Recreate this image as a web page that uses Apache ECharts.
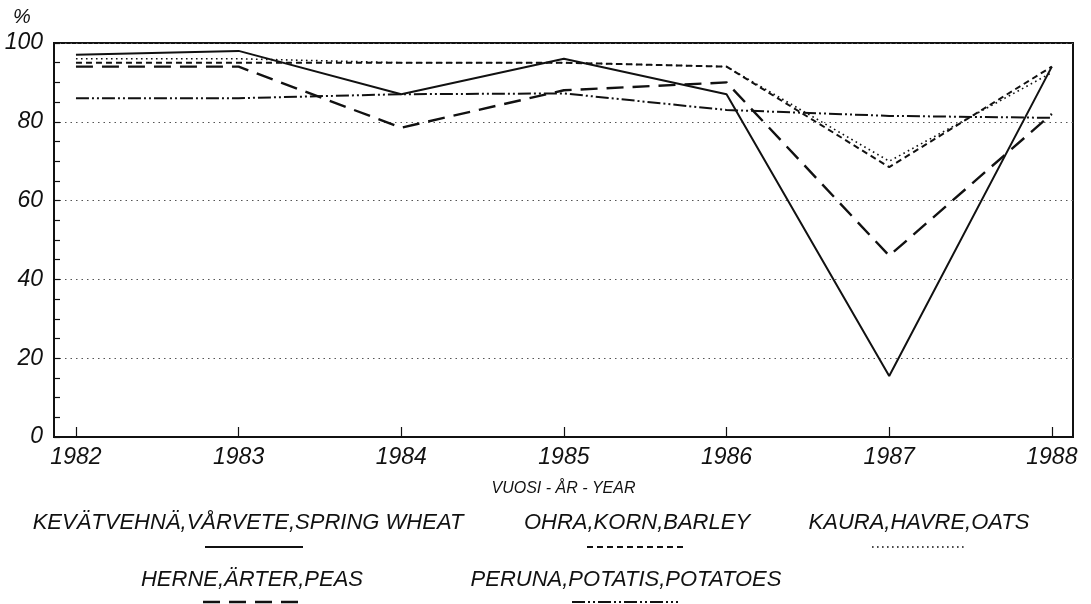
<!DOCTYPE html>
<html>
<head>
<meta charset="utf-8">
<script src="https://cdn.jsdelivr.net/npm/echarts@6/dist/echarts.min.js"></script>
<style>
html,body{margin:0;padding:0;background:#fff;}
#chart{width:1091px;height:604px;}
</style>
</head>
<body>
<div id="chart"></div>
<script>
// ---- data ----
const years = [1982, 1983, 1984, 1985, 1986, 1987, 1988];
const yTicks = [0, 20, 40, 60, 80, 100];
const seriesNames = [
  'KEVÄTVEHNÄ,VÅRVETE,SPRING WHEAT',
  'OHRA,KORN,BARLEY',
  'KAURA,HAVRE,OATS',
  'HERNE,ÄRTER,PEAS',
  'PERUNA,POTATIS,POTATOES'
];
const springWheat = [97, 98, 87, 96, 87, 15.5, 94];
const barley      = [95, 95, 95, 95, 94, 68.5, 94];
const oats        = [96, 96, 95, 95, 94, 70, 92.5];
const peas        = [94, 94, 78.5, 88, 90, 46, 82];
const potatoes    = [86, 86, 87, 87.2, 83, 81.5, 81];
const xAxisTitle = 'VUOSI - ÅR - YEAR';
const yAxisUnit = '%';

// ---- styles ----
const FONT = 'Liberation Sans, Arial, sans-serif';
const lineStyles = [
  {width: 2, type: 'solid'},
  {width: 2, type: [6, 4]},
  {width: 1.6, type: [1.6, 3.4]},
  {width: 2.4, type: [17, 9]},
  {width: 2, type: [13, 3, 2, 3, 2, 3]}
];
const allValues = [springWheat, barley, oats, peas, potatoes];

// legend layout: [centerX, textY, lineX1, lineX2, lineY]
const legendLayout = [
  [248, 523, 205, 303, 547],
  [637, 523, 587, 683, 547],
  [919, 523, 872, 966, 547],
  [252, 580, 203, 303, 602],
  [626, 580, 572, 678, 602]
];

const chart = echarts.init(document.getElementById('chart'), null, {renderer: 'canvas'});

const series = seriesNames.map((name, i) => ({
  name: name,
  type: 'line',
  data: years.map((y, j) => [y, allValues[i][j]]),
  symbol: 'none',
  lineStyle: {color: '#111', width: lineStyles[i].width, type: lineStyles[i].type},
  z: 3
}));

const graphic = [];
seriesNames.forEach((name, i) => {
  const L = legendLayout[i];
  graphic.push({
    type: 'text',
    x: L[0], y: L[1],
    style: {text: name, font: 'italic 22px ' + FONT, fill: '#111', textAlign: 'center', textVerticalAlign: 'middle'}
  });
  graphic.push({
    type: 'line',
    shape: {x1: L[2], y1: L[4], x2: L[3], y2: L[4]},
    style: {stroke: '#111', lineWidth: lineStyles[i].width, lineDash: lineStyles[i].type === 'solid' ? null : lineStyles[i].type}
  });
});

chart.setOption({
  backgroundColor: '#fff',
  animation: false,
  title: {
    text: yAxisUnit, left: 8, top: 2,
    textStyle: {fontFamily: FONT, fontStyle: 'italic', fontWeight: 'normal', fontSize: 20, color: '#111'}
  },
  grid: {
    left: 54, right: 18, top: 43, bottom: 167,
    show: true, borderColor: '#111', borderWidth: 2, backgroundColor: 'transparent'
  },
  xAxis: {
    type: 'value',
    min: 1981.865, max: 1988.13,
    name: xAxisTitle,
    nameLocation: 'middle',
    nameGap: 44,
    nameTextStyle: {fontFamily: FONT, fontStyle: 'italic', fontSize: 16, color: '#111'},
    axisLine: {show: true, lineStyle: {color: '#111', width: 2}},
    axisTick: {show: true, inside: true, length: 10, customValues: years, lineStyle: {color: '#111', width: 1.2}},
    axisLabel: {customValues: years, margin: 9, fontFamily: FONT, fontStyle: 'italic', fontSize: 23, color: '#111', formatter: v => String(v)},
    splitLine: {show: false}
  },
  yAxis: {
    type: 'value',
    min: 0, max: 100, interval: 20,
    axisLine: {show: true, lineStyle: {color: '#111', width: 2}},
    axisTick: {show: true, inside: true, length: 6, lineStyle: {color: '#111', width: 1.2}},
    minorTick: {show: true, splitNumber: 4, length: 6, lineStyle: {color: '#111', width: 1.2}},
    axisLabel: {margin: 11, fontFamily: FONT, fontStyle: 'italic', fontSize: 23, color: '#111',
      formatter: v => yTicks.indexOf(v) >= 0 ? String(v) : ''},
    splitLine: {show: true, lineStyle: {color: '#555', width: 1, type: [1.5, 4]}}
  },
  graphic: graphic,
  series: series
});
</script>
</body>
</html>
